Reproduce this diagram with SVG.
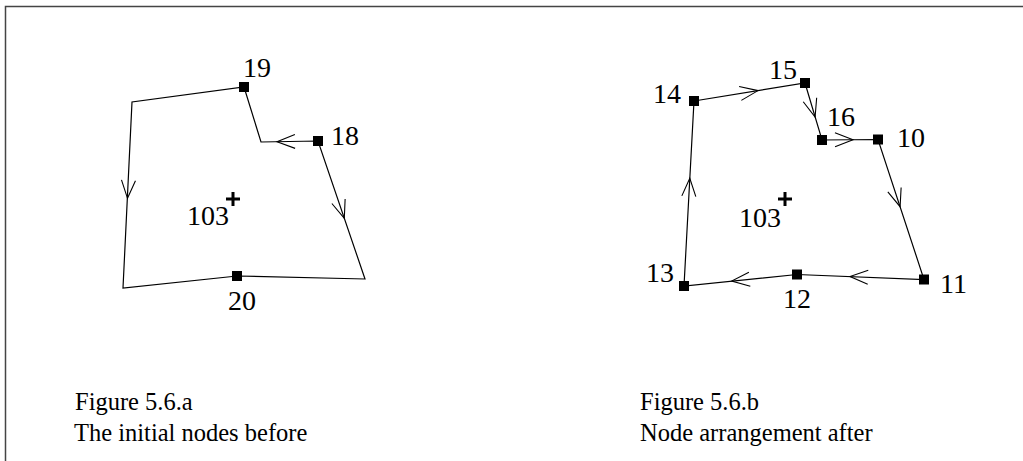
<svg xmlns="http://www.w3.org/2000/svg" xmlns:xlink="http://www.w3.org/1999/xlink" width="1023" height="461" viewBox="0 0 1023 461">
<style>
.edge{fill:none;stroke:#000;stroke-width:1.2;stroke-linejoin:miter}
.vee{fill:none;stroke:#000;stroke-width:1.1}
.node{fill:#000}
.lbl{font-family:"Liberation Serif","Times New Roman",serif;font-size:28px;fill:#000}
.cap{font-family:"Liberation Serif","Times New Roman",serif;font-size:24.5px;fill:#000}
.plus{stroke:#000;stroke-width:3;fill:none}
</style>
<defs>
<path id="vee" class="vee" d="M-18,-7 L0,0 L-18,7"/>
</defs>
<rect width="1023" height="461" fill="#fff"/>
<path d="M5.5,461 V6.5 H1023" fill="none" stroke="#444" stroke-width="1.5"/>
<g id="connectors">
<path class="edge" d="M318,141 L261,142 L244,87 L132,102 L123,288 L237,276 L365,279 Z"/>
<use xlink:href="#vee" transform="translate(127.5,198.3) rotate(93.1)"/>
<use xlink:href="#vee" transform="translate(277,141.7) rotate(179)"/>
<use xlink:href="#vee" transform="translate(344.3,218.3) rotate(71.2)"/>
<path class="edge" d="M694,101 L805,83 L822,140 L878,139.5 L924,279.5 L797,274.5 L684,286 Z"/>
<use xlink:href="#vee" transform="translate(758,90.6) rotate(-9.2)"/>
<use xlink:href="#vee" transform="translate(815.1,117) rotate(73.4)"/>
<use xlink:href="#vee" transform="translate(853,139.7) rotate(-0.5)"/>
<use xlink:href="#vee" transform="translate(900.1,206.7) rotate(71.8)"/>
<use xlink:href="#vee" transform="translate(850,276.6) rotate(182.3)"/>
<use xlink:href="#vee" transform="translate(731.7,281.1) rotate(174.2)"/>
<use xlink:href="#vee" transform="translate(689.8,178.3) rotate(-86.9)"/>
</g>
<g id="n19"><rect class="node" x="239" y="82" width="10" height="10"/><text class="lbl" x="243" y="77">19</text></g>
<g id="n18"><rect class="node" x="313" y="136" width="10" height="10"/><text class="lbl" x="331" y="144.5">18</text></g>
<g id="n20"><rect class="node" x="232" y="271" width="10" height="10"/><text class="lbl" x="228" y="310">20</text></g>
<g id="c103a"><text class="lbl" x="187" y="225">103</text><path class="plus" d="M226,199 H240 M233,192 V206"/></g>
<g id="n14"><rect class="node" x="689" y="96" width="10" height="10"/><text class="lbl" x="653" y="102.5">14</text></g>
<g id="n15"><rect class="node" x="800" y="78" width="10" height="10"/><text class="lbl" x="769" y="78.5">15</text></g>
<g id="n16"><rect class="node" x="817" y="135" width="10" height="10"/><text class="lbl" x="827" y="126">16</text></g>
<g id="n10"><rect class="node" x="873" y="134.5" width="10" height="10"/><text class="lbl" x="897" y="146.5">10</text></g>
<g id="n11"><rect class="node" x="919" y="274.5" width="10" height="10"/><text class="lbl" x="940" y="292.5">11</text></g>
<g id="n12"><rect class="node" x="792" y="269.5" width="10" height="10"/><text class="lbl" x="783" y="308">12</text></g>
<g id="n13"><rect class="node" x="679" y="281" width="10" height="10"/><text class="lbl" x="646" y="281.5">13</text></g>
<g id="c103b"><text class="lbl" x="739" y="226.5">103</text><path class="plus" d="M778,199 H792 M785,192 V206"/></g>
<g id="captionA"><text class="cap" x="75" y="410">Figure 5.6.a</text><text class="cap" x="74" y="441">The initial nodes before</text></g>
<g id="captionB"><text class="cap" x="640" y="410">Figure 5.6.b</text><text class="cap" x="640" y="441">Node arrangement after</text></g>
</svg>
